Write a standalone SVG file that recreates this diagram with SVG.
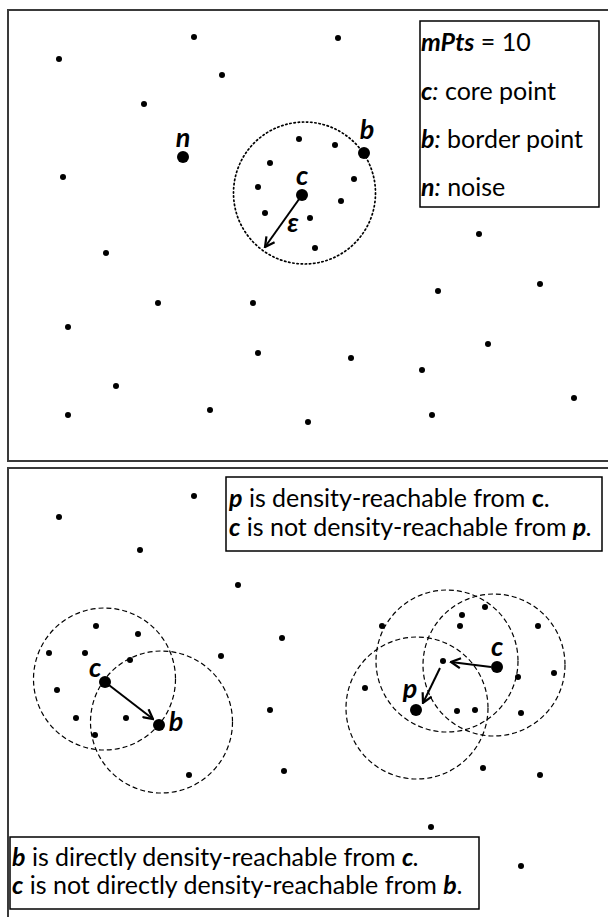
<svg xmlns="http://www.w3.org/2000/svg" width="608" height="917" viewBox="0 0 608 917">
<style>
.frame{fill:none;stroke:#3a3a3a;stroke-width:2}
.box{fill:#fff;stroke:#000;stroke-width:1.5}
.d{fill:#000}
.t{font-family:Lato,"Open Sans","DejaVu Sans",sans-serif;font-size:25px;fill:#000}
.bi{font-weight:bold;font-style:italic}
.b{font-weight:bold}
.i{font-style:italic}
.lbl{font-family:Lato,"Open Sans","DejaVu Sans",sans-serif;font-size:27px;font-weight:bold;font-style:italic;fill:#000;text-anchor:middle}
.dotted{fill:none;stroke:#000;stroke-width:1.7;stroke-dasharray:1.4 2.8;stroke-linecap:round}
.dashed{fill:none;stroke:#000;stroke-width:1.2;stroke-dasharray:5 3}
.arr{fill:none;stroke:#000;stroke-width:2;marker-end:url(#ah)}
</style>
<defs>
<marker id="ah" viewBox="0 0 12 12" refX="10.5" refY="6" markerUnits="userSpaceOnUse" markerWidth="12" markerHeight="12" orient="auto">
<path d="M1,1 L10.5,6 L1,11" fill="none" stroke="#000" stroke-width="2.2"/>
</marker>
</defs>
<rect width="608" height="917" fill="#fff"/>

<g id="panel-top">
<rect class="frame" x="8" y="10" width="620" height="451"/>
<circle class="dotted" cx="304.5" cy="193" r="71"/>
<g id="top-points">
<circle class="d" cx="59" cy="59" r="3"/>
<circle class="d" cx="194" cy="37" r="3"/>
<circle class="d" cx="222" cy="75" r="3"/>
<circle class="d" cx="144" cy="104" r="3"/>
<circle class="d" cx="63" cy="177" r="3"/>
<circle class="d" cx="338" cy="38" r="3"/>
<circle class="d" cx="299" cy="139" r="3"/>
<circle class="d" cx="335" cy="145" r="3"/>
<circle class="d" cx="270" cy="163" r="3"/>
<circle class="d" cx="354" cy="179" r="3"/>
<circle class="d" cx="258" cy="187" r="3"/>
<circle class="d" cx="341" cy="201" r="3"/>
<circle class="d" cx="265" cy="213" r="3"/>
<circle class="d" cx="310" cy="218" r="3"/>
<circle class="d" cx="315" cy="248" r="3"/>
<circle class="d" cx="106" cy="253" r="3"/>
<circle class="d" cx="158" cy="303" r="3"/>
<circle class="d" cx="253" cy="303" r="3"/>
<circle class="d" cx="68" cy="327" r="3"/>
<circle class="d" cx="258" cy="353" r="3"/>
<circle class="d" cx="116" cy="386" r="3"/>
<circle class="d" cx="68" cy="415" r="3"/>
<circle class="d" cx="210" cy="410" r="3"/>
<circle class="d" cx="479" cy="234" r="3"/>
<circle class="d" cx="438" cy="291" r="3"/>
<circle class="d" cx="540" cy="284" r="3"/>
<circle class="d" cx="488" cy="344" r="3"/>
<circle class="d" cx="351" cy="358" r="3"/>
<circle class="d" cx="422" cy="370" r="3"/>
<circle class="d" cx="574" cy="398" r="3"/>
<circle class="d" cx="308" cy="422" r="3"/>
<circle class="d" cx="432" cy="415" r="3"/>
</g>
<g id="node-n"><circle class="d" cx="183" cy="157" r="6"/><text class="lbl" x="183" y="147">n</text></g>
<g id="node-b-top"><circle class="d" cx="364" cy="153" r="6"/><text class="lbl" x="367" y="139">b</text></g>
<g id="node-c-top"><circle class="d" cx="302" cy="195" r="6"/><text class="lbl" x="302" y="185">c</text></g>
<g id="legend">
<rect class="box" x="420" y="21" width="179" height="186"/>
<text class="t" x="421" y="51"><tspan class="bi">mPts</tspan> = 10</text>
<text class="t" x="421" y="100"><tspan class="bi">c</tspan><tspan class="i">:</tspan> core point</text>
<text class="t" x="421" y="148"><tspan class="bi">b</tspan><tspan class="i">:</tspan> border point</text>
<text class="t" x="421" y="196"><tspan class="bi">n</tspan><tspan class="i">:</tspan> noise</text>
</g>
</g>

<g id="panel-bottom">
<rect class="frame" x="8" y="468" width="620" height="470"/>
<circle class="dashed" cx="104.5" cy="679" r="71"/>
<circle class="dashed" cx="161.5" cy="722" r="71"/>
<circle class="dashed" cx="447" cy="661" r="71"/>
<circle class="dashed" cx="494" cy="665" r="71"/>
<circle class="dashed" cx="417" cy="708" r="71"/>
<g id="bottom-points">
<circle class="d" cx="194" cy="496" r="3"/>
<circle class="d" cx="59" cy="517" r="3"/>
<circle class="d" cx="140" cy="550" r="3"/>
<circle class="d" cx="238" cy="585" r="3"/>
<circle class="d" cx="96" cy="626" r="3"/>
<circle class="d" cx="138" cy="634" r="3"/>
<circle class="d" cx="49" cy="653" r="3"/>
<circle class="d" cx="85" cy="653" r="3"/>
<circle class="d" cx="130" cy="660" r="3"/>
<circle class="d" cx="221" cy="656" r="3"/>
<circle class="d" cx="282" cy="638" r="3"/>
<circle class="d" cx="57" cy="690" r="3"/>
<circle class="d" cx="76" cy="718" r="3"/>
<circle class="d" cx="126" cy="718" r="3"/>
<circle class="d" cx="95" cy="735" r="3"/>
<circle class="d" cx="189" cy="775" r="3"/>
<circle class="d" cx="270" cy="710" r="3"/>
<circle class="d" cx="284" cy="771" r="3"/>
<circle class="d" cx="382" cy="626" r="3"/>
<circle class="d" cx="462" cy="615" r="3"/>
<circle class="d" cx="460" cy="626" r="3"/>
<circle class="d" cx="485" cy="607" r="3"/>
<circle class="d" cx="538" cy="626" r="3"/>
<circle class="d" cx="443" cy="661" r="3"/>
<circle class="d" cx="518" cy="677" r="3"/>
<circle class="d" cx="554" cy="673" r="3"/>
<circle class="d" cx="365" cy="688" r="3"/>
<circle class="d" cx="457" cy="711" r="3"/>
<circle class="d" cx="475" cy="710" r="3"/>
<circle class="d" cx="521" cy="713" r="3"/>
<circle class="d" cx="483" cy="768" r="3"/>
<circle class="d" cx="540" cy="775" r="3"/>
<circle class="d" cx="431" cy="827" r="3"/>
<circle class="d" cx="521" cy="866" r="3"/>
</g>
<g id="node-c-left"><circle class="d" cx="105" cy="682" r="6"/><text class="lbl" x="95" y="677">c</text></g>
<g id="node-b-bottom"><circle class="d" cx="159" cy="725" r="6"/><text class="lbl" x="176" y="731">b</text></g>
<g id="node-c-right"><circle class="d" cx="497" cy="667" r="6"/><text class="lbl" x="497" y="656">c</text></g>
<g id="node-p"><circle class="d" cx="416" cy="710" r="6"/><text class="lbl" x="410" y="698">p</text></g>
<g id="note-top">
<rect class="box" x="226" y="477" width="376" height="74"/>
<text class="t" x="229" y="507"><tspan class="bi">p</tspan> is density-reachable from <tspan class="b">c</tspan>.</text>
<text class="t" x="229" y="536"><tspan class="bi">c</tspan> is not density-reachable from <tspan class="bi">p</tspan><tspan class="i">.</tspan></text>
</g>
<g id="note-bottom">
<rect class="box" x="10" y="837" width="469" height="72"/>
<text class="t" x="12" y="866"><tspan class="bi">b</tspan> is directly density-reachable from <tspan class="bi">c</tspan><tspan class="i">.</tspan></text>
<text class="t" x="12" y="894"><tspan class="bi">c</tspan> is not directly density-reachable from <tspan class="bi">b</tspan>.</text>
</g>
</g>

<g id="connectors">
<line class="arr" x1="302" y1="195" x2="265" y2="247"/>
<text class="lbl" x="293" y="232">ε</text>
<line class="arr" x1="105" y1="682" x2="153" y2="719"/>
<line class="arr" x1="491" y1="667" x2="451" y2="662"/>
<line class="arr" x1="440" y1="668" x2="423" y2="703"/>
</g>
</svg>
